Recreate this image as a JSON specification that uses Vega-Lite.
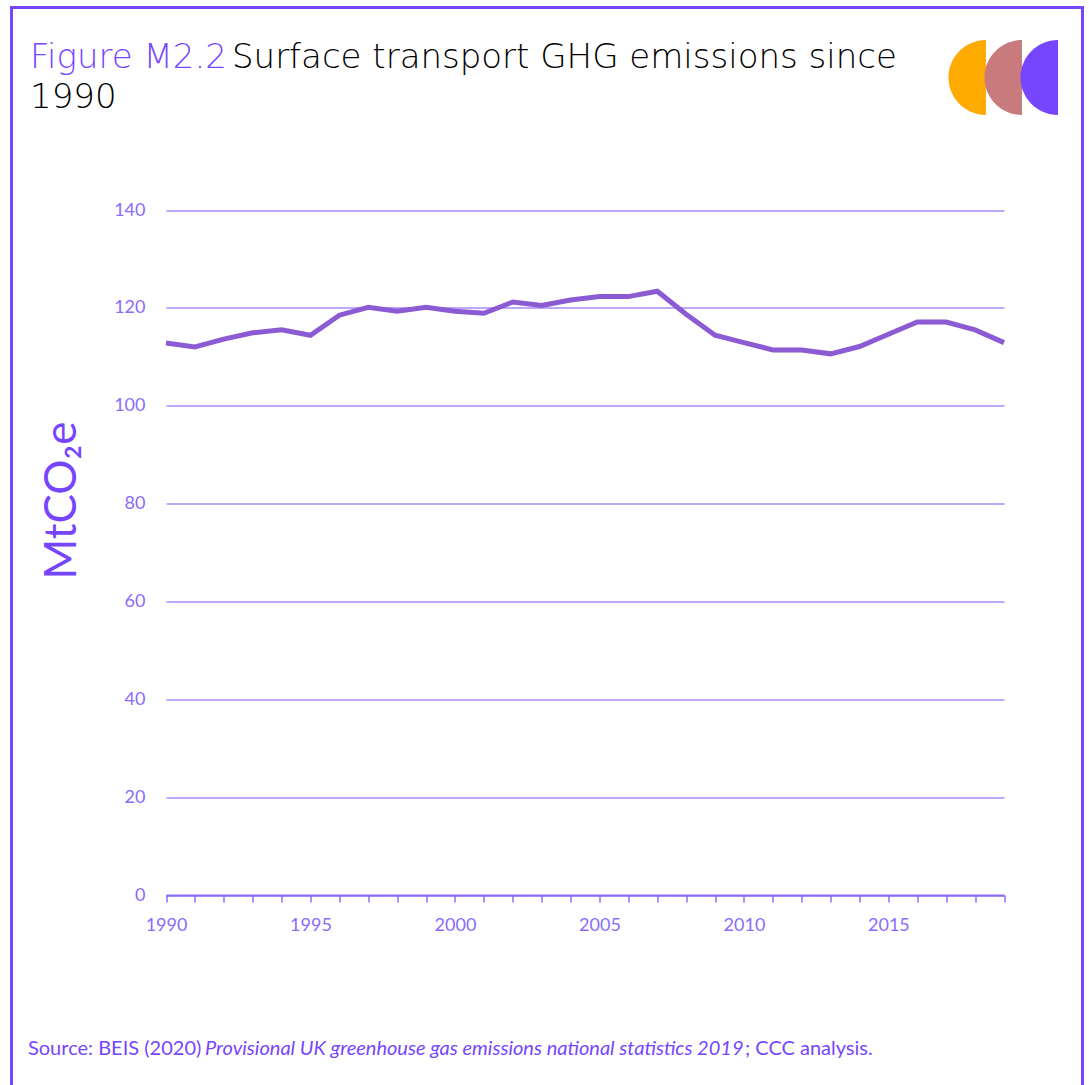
{
  "$schema": "https://vega.github.io/schema/vega-lite/v6.json",
  "width": 1071,
  "height": 1085,
  "autosize": {"type": "none"},
  "padding": {"left": 11.5, "top": 7.5, "right": 6.5, "bottom": 0},
  "background": "white",
  "config": {
    "view": {"stroke": "#7646FF", "strokeWidth": 3},
    "font": "Lato"
  },
  "layer": [
    {
      "data": {
        "values": [
          {"year": 1990, "value": 112.8},
          {"year": 1991, "value": 112.0},
          {"year": 1992, "value": 113.6},
          {"year": 1993, "value": 114.9},
          {"year": 1994, "value": 115.5},
          {"year": 1995, "value": 114.4},
          {"year": 1996, "value": 118.5},
          {"year": 1997, "value": 120.1},
          {"year": 1998, "value": 119.3},
          {"year": 1999, "value": 120.1},
          {"year": 2000, "value": 119.3},
          {"year": 2001, "value": 118.9},
          {"year": 2002, "value": 121.2},
          {"year": 2003, "value": 120.5},
          {"year": 2004, "value": 121.6},
          {"year": 2005, "value": 122.3},
          {"year": 2006, "value": 122.3},
          {"year": 2007, "value": 123.4},
          {"year": 2008, "value": 118.7},
          {"year": 2009, "value": 114.4},
          {"year": 2010, "value": 112.9},
          {"year": 2011, "value": 111.4},
          {"year": 2012, "value": 111.4},
          {"year": 2013, "value": 110.6},
          {"year": 2014, "value": 112.1},
          {"year": 2015, "value": 114.6},
          {"year": 2016, "value": 117.1},
          {"year": 2017, "value": 117.1},
          {"year": 2018, "value": 115.5},
          {"year": 2019, "value": 112.9}
        ]
      },
      "mark": {"type": "line", "color": "#8C5BD3", "strokeWidth": 5},
      "encoding": {
        "x": {
          "field": "year",
          "type": "quantitative",
          "scale": {"domain": [1990, 2019], "range": [154.5, 992.5], "nice": false, "zero": false},
          "axis": {
            "title": null,
            "values": [1990,1991,1992,1993,1994,1995,1996,1997,1998,1999,2000,2001,2002,2003,2004,2005,2006,2007,2008,2009,2010,2011,2012,2013,2014,2015,2016,2017,2018,2019],
            "tickCount": 60,
            "labelExpr": "datum.value % 5 == 0 ? datum.value : ''",
            "grid": false,
            "offset": -197.5,
            "domainColor": "#8C6BFA",
            "domainWidth": 2,
            "tickColor": "#8C6BFA",
            "tickWidth": 1.5,
            "tickSize": 7,
            "labelColor": "#8C6BFA",
            "labelFontSize": 18,
            "labelPadding": 14,
            "labelFlush": false,
            "labelOverlap": false
          }
        },
        "y": {
          "field": "value",
          "type": "quantitative",
          "scale": {"domain": [0, 140], "range": [887.5, 202.5], "nice": false},
          "axis": {
            "title": "MtCO₂e",
            "values": [0, 20, 40, 60, 80, 100, 120, 140],
            "offset": -154.5,
            "domain": false,
            "ticks": false,
            "tickSize": 0,
            "grid": true,
            "gridColor": "#A88BF8",
            "gridWidth": 1.5,
            "labelColor": "#8C6BFA",
            "labelFontSize": 18,
            "labelPadding": 21,
            "titleColor": "#7646FF",
            "titleFontSize": 44,
            "titleFontWeight": "normal",
            "titleAngle": -90,
            "titleAlign": "center",
            "titleBaseline": "middle",
            "titleX": -104,
            "titleY": 492.5
          }
        }
      }
    },
    {
      "data": {"values": [{"t": "Figure M2.2"}]},
      "mark": {"type": "text", "align": "left", "baseline": "alphabetic", "font": "DejaVu Sans", "fontWeight": 200, "fontSize": 34, "color": "#7646FF"},
      "encoding": {"text": {"field": "t"}, "x": {"datum": 1985.294}, "y": {"datum": 169.12}}
    },
    {
      "data": {"values": [{"t": "Surface transport GHG emissions since"}]},
      "mark": {"type": "text", "align": "left", "baseline": "alphabetic", "font": "DejaVu Sans", "fontWeight": 200, "fontSize": 34, "color": "#000000"},
      "encoding": {"text": {"field": "t"}, "x": {"datum": 1992.284}, "y": {"datum": 169.12}}
    },
    {
      "data": {"values": [{"t": "1990"}]},
      "mark": {"type": "text", "align": "left", "baseline": "alphabetic", "font": "DejaVu Sans", "fontWeight": 200, "fontSize": 34, "color": "#000000"},
      "encoding": {"text": {"field": "t"}, "x": {"datum": 1985.294}, "y": {"datum": 160.85}}
    },
    {
      "data": {"values": [{"t": "Source: BEIS (2020)"}]},
      "mark": {"type": "text", "align": "left", "baseline": "alphabetic", "fontSize": 20, "color": "#7646FF"},
      "encoding": {"text": {"field": "t"}, "x": {"datum": 1985.224}, "y": {"datum": -32.7}}
    },
    {
      "data": {"values": [{"t": "Provisional UK greenhouse gas emissions national statistics 2019"}]},
      "mark": {"type": "text", "align": "left", "baseline": "alphabetic", "fontSize": 20, "fontStyle": "italic", "color": "#7646FF"},
      "encoding": {"text": {"field": "t"}, "x": {"datum": 1991.35}, "y": {"datum": -32.7}}
    },
    {
      "data": {"values": [{"t": "; CCC analysis."}]},
      "mark": {"type": "text", "align": "left", "baseline": "alphabetic", "fontSize": 20, "color": "#7646FF"},
      "encoding": {"text": {"field": "t"}, "x": {"datum": 2010.036}, "y": {"datum": -32.7}}
    },
    {
      "data": {"values": [{"logo": "orange"}]},
      "mark": {"type": "point", "shape": "M 0 -1 A 1 1 0 0 0 0 1 Z", "filled": true, "size": 5625, "color": "#FFAA00", "opacity": 1, "strokeWidth": 0},
      "encoding": {"x": {"datum": 2018.376}, "y": {"datum": 167.08}}
    },
    {
      "data": {"values": [{"logo": "pink"}]},
      "mark": {"type": "point", "shape": "M 0 -1 A 1 1 0 0 0 0 1 Z", "filled": true, "size": 5625, "color": "#C87A7D", "opacity": 1, "strokeWidth": 0},
      "encoding": {"x": {"datum": 2019.622}, "y": {"datum": 167.08}}
    },
    {
      "data": {"values": [{"logo": "purple"}]},
      "mark": {"type": "point", "shape": "M 0 -1 A 1 1 0 0 0 0 1 Z", "filled": true, "size": 5625, "color": "#7646FF", "opacity": 1, "strokeWidth": 0},
      "encoding": {"x": {"datum": 2020.868}, "y": {"datum": 167.08}}
    }
  ]
}
